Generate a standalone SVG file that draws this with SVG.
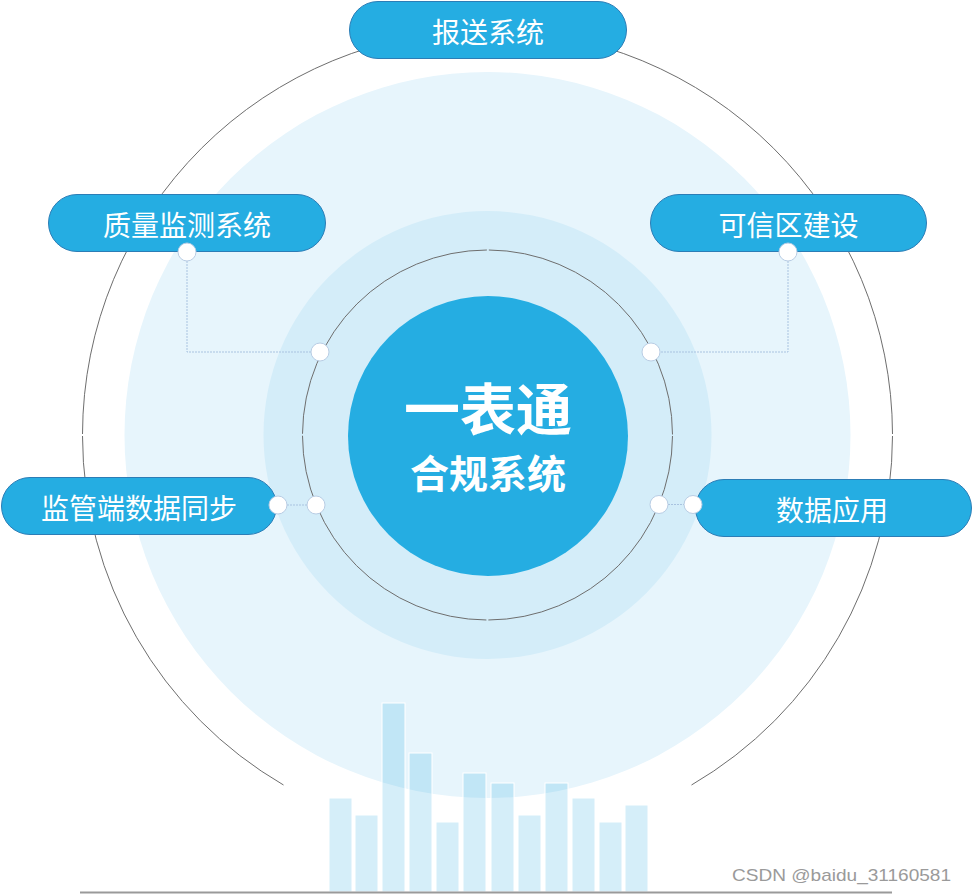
<svg xmlns="http://www.w3.org/2000/svg" width="972" height="894" viewBox="0 0 972 894">
<style>
.pill{fill:#25ADE2;stroke:#2C7DB6;stroke-width:1}
.ptxt{font-family:"Noto Sans CJK SC","Noto Sans",sans-serif;font-size:28px;fill:#fff;text-anchor:middle;dominant-baseline:central}
.ctxt{font-family:"Noto Sans CJK SC","Noto Sans",sans-serif;font-weight:bold;fill:#fff;text-anchor:middle;dominant-baseline:central}
.dot{fill:#fff;stroke:#B9CDE4;stroke-width:1}
.conn{fill:none;stroke:#A9C3E0;stroke-width:1;stroke-dasharray:2 1}
.bar{fill:#2BA9E1;fill-opacity:0.2;stroke:#fff;stroke-width:1}
.ring{fill:none;stroke:#6E6E6E;stroke-width:1}
</style>
<rect width="972" height="894" fill="#fff"/>
<g id="background">
<circle cx="487.5" cy="435" r="363" fill="#E7F5FC"/>
<circle cx="487.5" cy="435" r="224" fill="#D4EDF9"/>
<circle cx="487.5" cy="435" r="185" class="ring" stroke-dasharray="288.6 2" stroke-dashoffset="289.6"/>
<path class="ring" d="M283.5 785 A405 405 0 0 1 82.5 436 M82.5 434 A405 405 0 0 1 487.5 30 A405 405 0 0 1 892.5 434 M892.5 436 A405 405 0 0 1 691.5 785"/>
</g>
<g id="bars">
<rect class="bar" x="329" y="798" width="23" height="94"/>
<rect class="bar" x="355" y="815" width="23" height="77"/>
<rect class="bar" x="382" y="703" width="23" height="189"/>
<rect class="bar" x="409" y="753" width="23" height="139"/>
<rect class="bar" x="436" y="822" width="23" height="70"/>
<rect class="bar" x="463" y="773" width="23" height="119"/>
<rect class="bar" x="491" y="783" width="23" height="109"/>
<rect class="bar" x="518" y="815" width="23" height="77"/>
<rect class="bar" x="545" y="783" width="23" height="109"/>
<rect class="bar" x="572" y="798" width="23" height="94"/>
<rect class="bar" x="599" y="822" width="23" height="70"/>
<rect class="bar" x="625" y="805" width="23" height="87"/>
<line x1="80" y1="892.5" x2="892" y2="892.5" stroke="#9A9A9A" stroke-width="2"/>
</g>
<g id="connectors">
<path class="conn" d="M187 261 V352 H311"/>
<path class="conn" d="M788 261 V352 H660"/>
<path class="conn" d="M287 505 H307"/>
<path class="conn" d="M668 504.5 H684"/>
</g>
<g id="center">
<circle cx="488" cy="436" r="140" fill="#25ADE2"/>
<text class="ctxt" x="488" y="405" font-size="56">一表通</text>
<text class="ctxt" x="488" y="471" font-size="39">合规系统</text>
</g>
<g id="node-baosong">
<rect class="pill" x="349.5" y="1.5" width="277" height="57" rx="28.5"/>
<text class="ptxt" x="488" y="31">报送系统</text>
</g>
<g id="node-zhiliang">
<rect class="pill" x="48.5" y="194.5" width="277" height="57" rx="28.5"/>
<text class="ptxt" x="187" y="224">质量监测系统</text>
</g>
<g id="node-kexin">
<rect class="pill" x="650.5" y="194.5" width="276" height="57" rx="28.5"/>
<text class="ptxt" x="788.5" y="224">可信区建设</text>
</g>
<g id="node-jianguan">
<rect class="pill" x="1.5" y="477.5" width="275" height="57" rx="28.5"/>
<text class="ptxt" x="139" y="507">监管端数据同步</text>
</g>
<g id="node-shuju">
<rect class="pill" x="695.5" y="479.5" width="276" height="57" rx="28.5"/>
<text class="ptxt" x="832" y="509">数据应用</text>
</g>
<g id="dots">
<circle class="dot" cx="187" cy="252" r="9"/>
<circle class="dot" cx="320" cy="352" r="9"/>
<circle class="dot" cx="788" cy="252" r="9"/>
<circle class="dot" cx="651" cy="352" r="9"/>
<circle class="dot" cx="278" cy="505" r="9"/>
<circle class="dot" cx="316" cy="505" r="9"/>
<circle class="dot" cx="659" cy="504.5" r="9"/>
<circle class="dot" cx="693" cy="504.5" r="9"/>
</g>
<text x="732" y="881" font-family="Liberation Sans, Arial, sans-serif" font-size="17" fill="#9A9A9A" textLength="219" lengthAdjust="spacingAndGlyphs">CSDN @baidu_31160581</text>
</svg>
